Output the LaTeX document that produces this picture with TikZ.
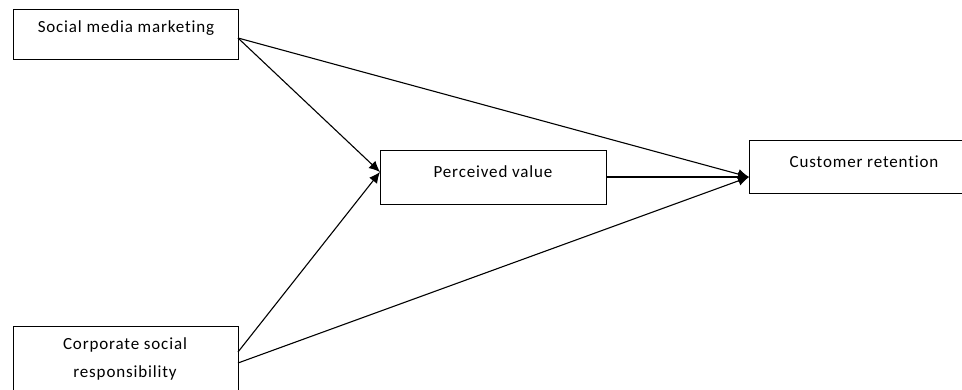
\documentclass[tikz,border=0pt]{standalone}
\usepackage{fontspec}
\setmainfont[LetterSpace=5,Ligatures=NoCommon]{Carlito}
\usetikzlibrary{arrows.meta}
\begin{document}
\begin{tikzpicture}[x=1pt,y=-1pt,
  box/.style={draw,line width=1.1pt,inner sep=0pt},
  lbl/.style={inner sep=0pt,font=\fontsize{17}{28}\selectfont},
  conn/.style={draw,line width=1.1pt,-{Latex[length=11pt,width=10pt]}}]
\useasboundingbox (0,0) rectangle (962,389);
\begin{scope}
\clip (0,0) rectangle (962,389);
\node[box,minimum width=225pt,minimum height=50pt,anchor=north west] (smm) at (13,9) {};
\node[lbl] (smmt) at (126,28) {Social media marketing};
\node[box,minimum width=226pt,minimum height=54pt,anchor=north west] (pv) at (380,150) {};
\node[lbl] (pvt) at (493,172) {Perceived value};
\node[box,minimum width=240pt,minimum height=53pt,anchor=north west] (cr) at (749,140) {};
\node[lbl] (crt) at (864,162) {Customer retention};
\node[box,minimum width=225pt,minimum height=80pt,anchor=north west] (csr) at (13,326) {};
\node[lbl,align=center] (csrt) at (125,359) {Corporate social\\responsibility};
\coordinate (pvin) at (380,172);
\coordinate (crin) at (749,177);
\coordinate (smmo) at (238,38);
\coordinate (csro1) at (238,352);
\coordinate (csro2) at (238,363);
\coordinate (pvo) at (606,177);
\draw[conn] (smmo) -- (pvin);
\draw[conn] (smmo) -- (crin);
\draw[conn] (csro1) -- (pvin);
\draw[conn] (csro2) -- (crin);
\draw[conn] (pvo) -- (crin);
\end{scope}
\end{tikzpicture}
\end{document}
